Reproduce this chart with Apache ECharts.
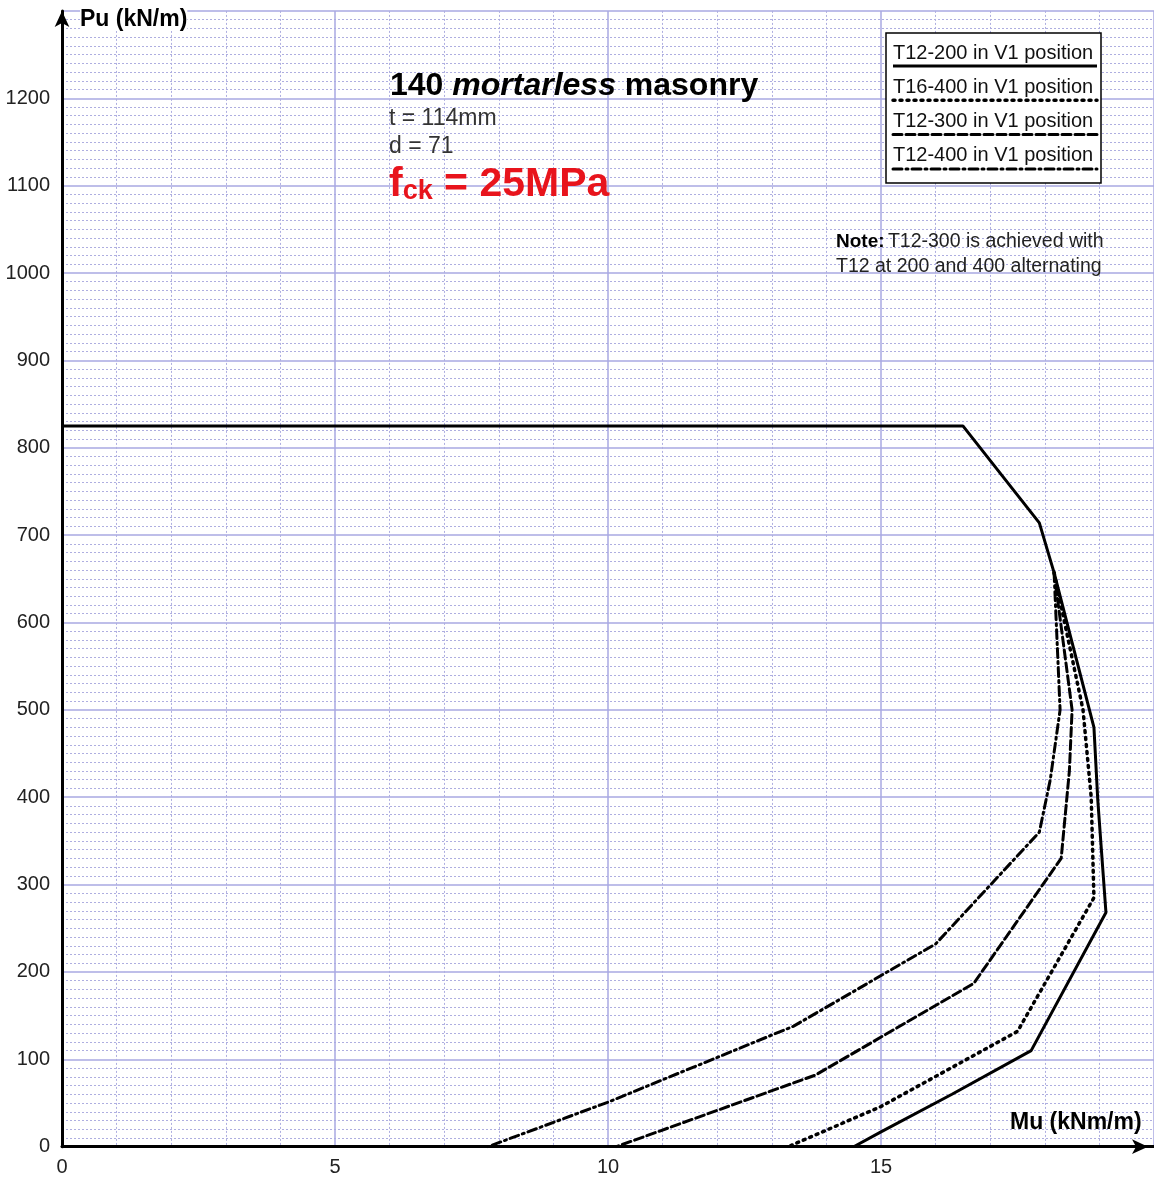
<!DOCTYPE html>
<html>
<head>
<meta charset="utf-8">
<title>140 mortarless masonry</title>
<script src="https://cdn.jsdelivr.net/npm/echarts@6/dist/echarts.min.js"></script>
<style>
    html, body { margin: 0; padding: 0; background: #fff; }
    #chart { width: 1154px; height: 1178px; }
</style>
</head>
<body>
<div id="chart"></div>
<script>
// interaction curves, Mu (kNm/m) against Pu (kN/m)
var muT12_200 = [0, 16.5, 17.9, 18.17, 18.9, 18.97, 19.12, 17.75, 16.3, 15.0, 14.5];
var puT12_200 = [825, 825, 714, 657, 480, 397, 268, 110, 60, 17, 0];

var muT16_400 = [18.17, 18.7, 18.85, 18.9, 17.5, 15.0, 13.3];
var puT16_400 = [657, 500, 400, 285, 132, 46, 0];

var muT12_300 = [18.17, 18.5, 18.45, 18.3, 16.7, 13.8, 10.15];
var puT12_300 = [657, 500, 430, 330, 187, 82, 0];

var muT12_400 = [18.17, 18.28, 18.1, 17.9, 16.0, 13.4, 10.0, 7.8];
var puT12_400 = [657, 500, 420, 360, 232, 138, 51, 0];

var legendNames = ['T12-200 in V1 position', 'T16-400 in V1 position', 'T12-300 in V1 position', 'T12-400 in V1 position'];
var lineDashes = ['solid', [2, 5], [9, 4], [9, 4, 2, 4]];

var FONT = '"Liberation Sans", Arial, sans-serif';

function pairs(xs, ys) {
    var out = [];
    for (var i = 0; i < xs.length; i++) {
        out.push([xs[i], ys[i]]);
    }
    return out;
}

function curve(name, xs, ys, dash) {
    return {
        name: name,
        type: 'line',
        data: pairs(xs, ys),
        symbol: 'none',
        silent: true,
        z: 5,
        lineStyle: { color: '#000', width: dash === lineDashes[1] ? 3.5 : 3, type: dash, cap: dash === 'solid' ? 'butt' : 'round' }
    };
}

function legendBox() {
    var items = [{
        type: 'rect',
        shape: { x: 886, y: 33, width: 215, height: 150 },
        style: { fill: '#fff', stroke: '#000', lineWidth: 1.5 },
        z: 20
    }];
    for (var i = 0; i < legendNames.length; i++) {
        var y0 = 33 + i * 34.3;
        items.push({
            type: 'text', x: 893, y: y0 + 10, z: 21,
            style: { text: legendNames[i], fill: '#111', font: '20px ' + FONT }
        });
        items.push({
            type: 'line', z: 21,
            shape: { x1: 893, y1: y0 + 33, x2: 1097, y2: y0 + 33 },
            style: { stroke: '#000', lineWidth: i === 1 ? 3.5 : 3, lineDash: lineDashes[i] === 'solid' ? null : lineDashes[i], lineCap: i === 0 ? 'butt' : 'round' }
        });
    }
    return items;
}

var chart = echarts.init(document.getElementById('chart'));

var option = {
    backgroundColor: '#fff',
    animation: false,
    grid: { left: 62, top: 10.9, width: 1096.8, height: 1135.8 },
    xAxis: {
        type: 'value', min: 0, max: 20, interval: 5,
        axisLine: { show: true, symbol: ['none', 'arrow'], symbolSize: [11, 16], symbolOffset: [0, -6], lineStyle: { color: '#000', width: 3 } },
        axisTick: { show: false },
        axisLabel: { showMaxLabel: false, color: '#222', fontSize: 20, fontFamily: 'Liberation Sans', margin: 11 },
        splitLine: { show: true, lineStyle: { color: '#a8a8e2', width: 1.5 } },
        minorTick: { show: false, splitNumber: 5 },
        minorSplitLine: { show: true, lineStyle: { color: '#aeaee0', width: 1, type: [2, 2] } }
    },
    yAxis: {
        type: 'value', min: 0, max: 1300, interval: 100,
        axisLine: { show: true, symbol: ['none', 'arrow'], symbolSize: [11, 16], lineStyle: { color: '#000', width: 3 } },
        axisTick: { show: false },
        axisLabel: {
            showMaxLabel: false, color: '#222', fontSize: 20, fontFamily: 'Liberation Sans', margin: 12,
            formatter: function (v) { return String(v); }
        },
        splitLine: { show: true, lineStyle: { color: '#a8a8e2', width: 1.5 } },
        minorTick: { show: false, splitNumber: 10 },
        minorSplitLine: { show: true, lineStyle: { color: '#aeaee0', width: 1, type: [2, 2] } }
    },
    series: [
        curve(legendNames[0], muT12_200, puT12_200, 'solid'),
        curve(legendNames[1], muT16_400, puT16_400, lineDashes[1]),
        curve(legendNames[2], muT12_300, puT12_300, lineDashes[2]),
        curve(legendNames[3], muT12_400, puT12_400, lineDashes[3])
    ],
    graphic: [
        {
            type: 'text', x: 80, y: 8, z: 20,
            style: { text: 'Pu (kN/m)', fill: '#000', font: 'bold 23px ' + FONT, backgroundColor: '#fff' }
        },
        {
            type: 'text', x: 1010, y: 1111, z: 20,
            style: { text: 'Mu (kNm/m)', fill: '#000', font: 'bold 23px ' + FONT }
        },
        {
            type: 'text', x: 390, y: 70, z: 20,
            style: {
                text: '{b|140 }{i|mortarless}{b| masonry}',
                rich: {
                    b: { fill: '#000', font: 'bold 32px ' + FONT },
                    i: { fill: '#000', font: 'italic bold 32px ' + FONT }
                }
            }
        },
        {
            type: 'text', x: 389, y: 107, z: 20,
            style: { text: 't = 114mm', fill: '#333', font: '23px ' + FONT }
        },
        {
            type: 'text', x: 389, y: 135, z: 20,
            style: { text: 'd = 71', fill: '#333', font: '23px ' + FONT }
        },
        {
            type: 'text', x: 389, y: 162, z: 20,
            style: {
                text: '{f|f}{s|ck}{f| = 25MPa}',
                rich: {
                    f: { fill: '#e8141c', font: 'bold 41px ' + FONT, verticalAlign: 'bottom' },
                    s: { fill: '#e8141c', font: 'bold 27px ' + FONT, padding: [16, 0, 0, 0], verticalAlign: 'bottom' }
                }
            }
        },
        {
            type: 'text', x: 836, y: 229, z: 20,
            style: {
                text: '{n|Note:} {t|T12-300 is achieved with}\n{t|T12 at 200 and 400 alternating}',
                lineHeight: 25,
                rich: {
                    n: { fill: '#000', font: 'bold 19px ' + FONT },
                    t: { fill: '#222', font: '19.5px ' + FONT }
                }
            }
        }
    ].concat(legendBox())
};

chart.setOption(option);
</script>
</body>
</html>
